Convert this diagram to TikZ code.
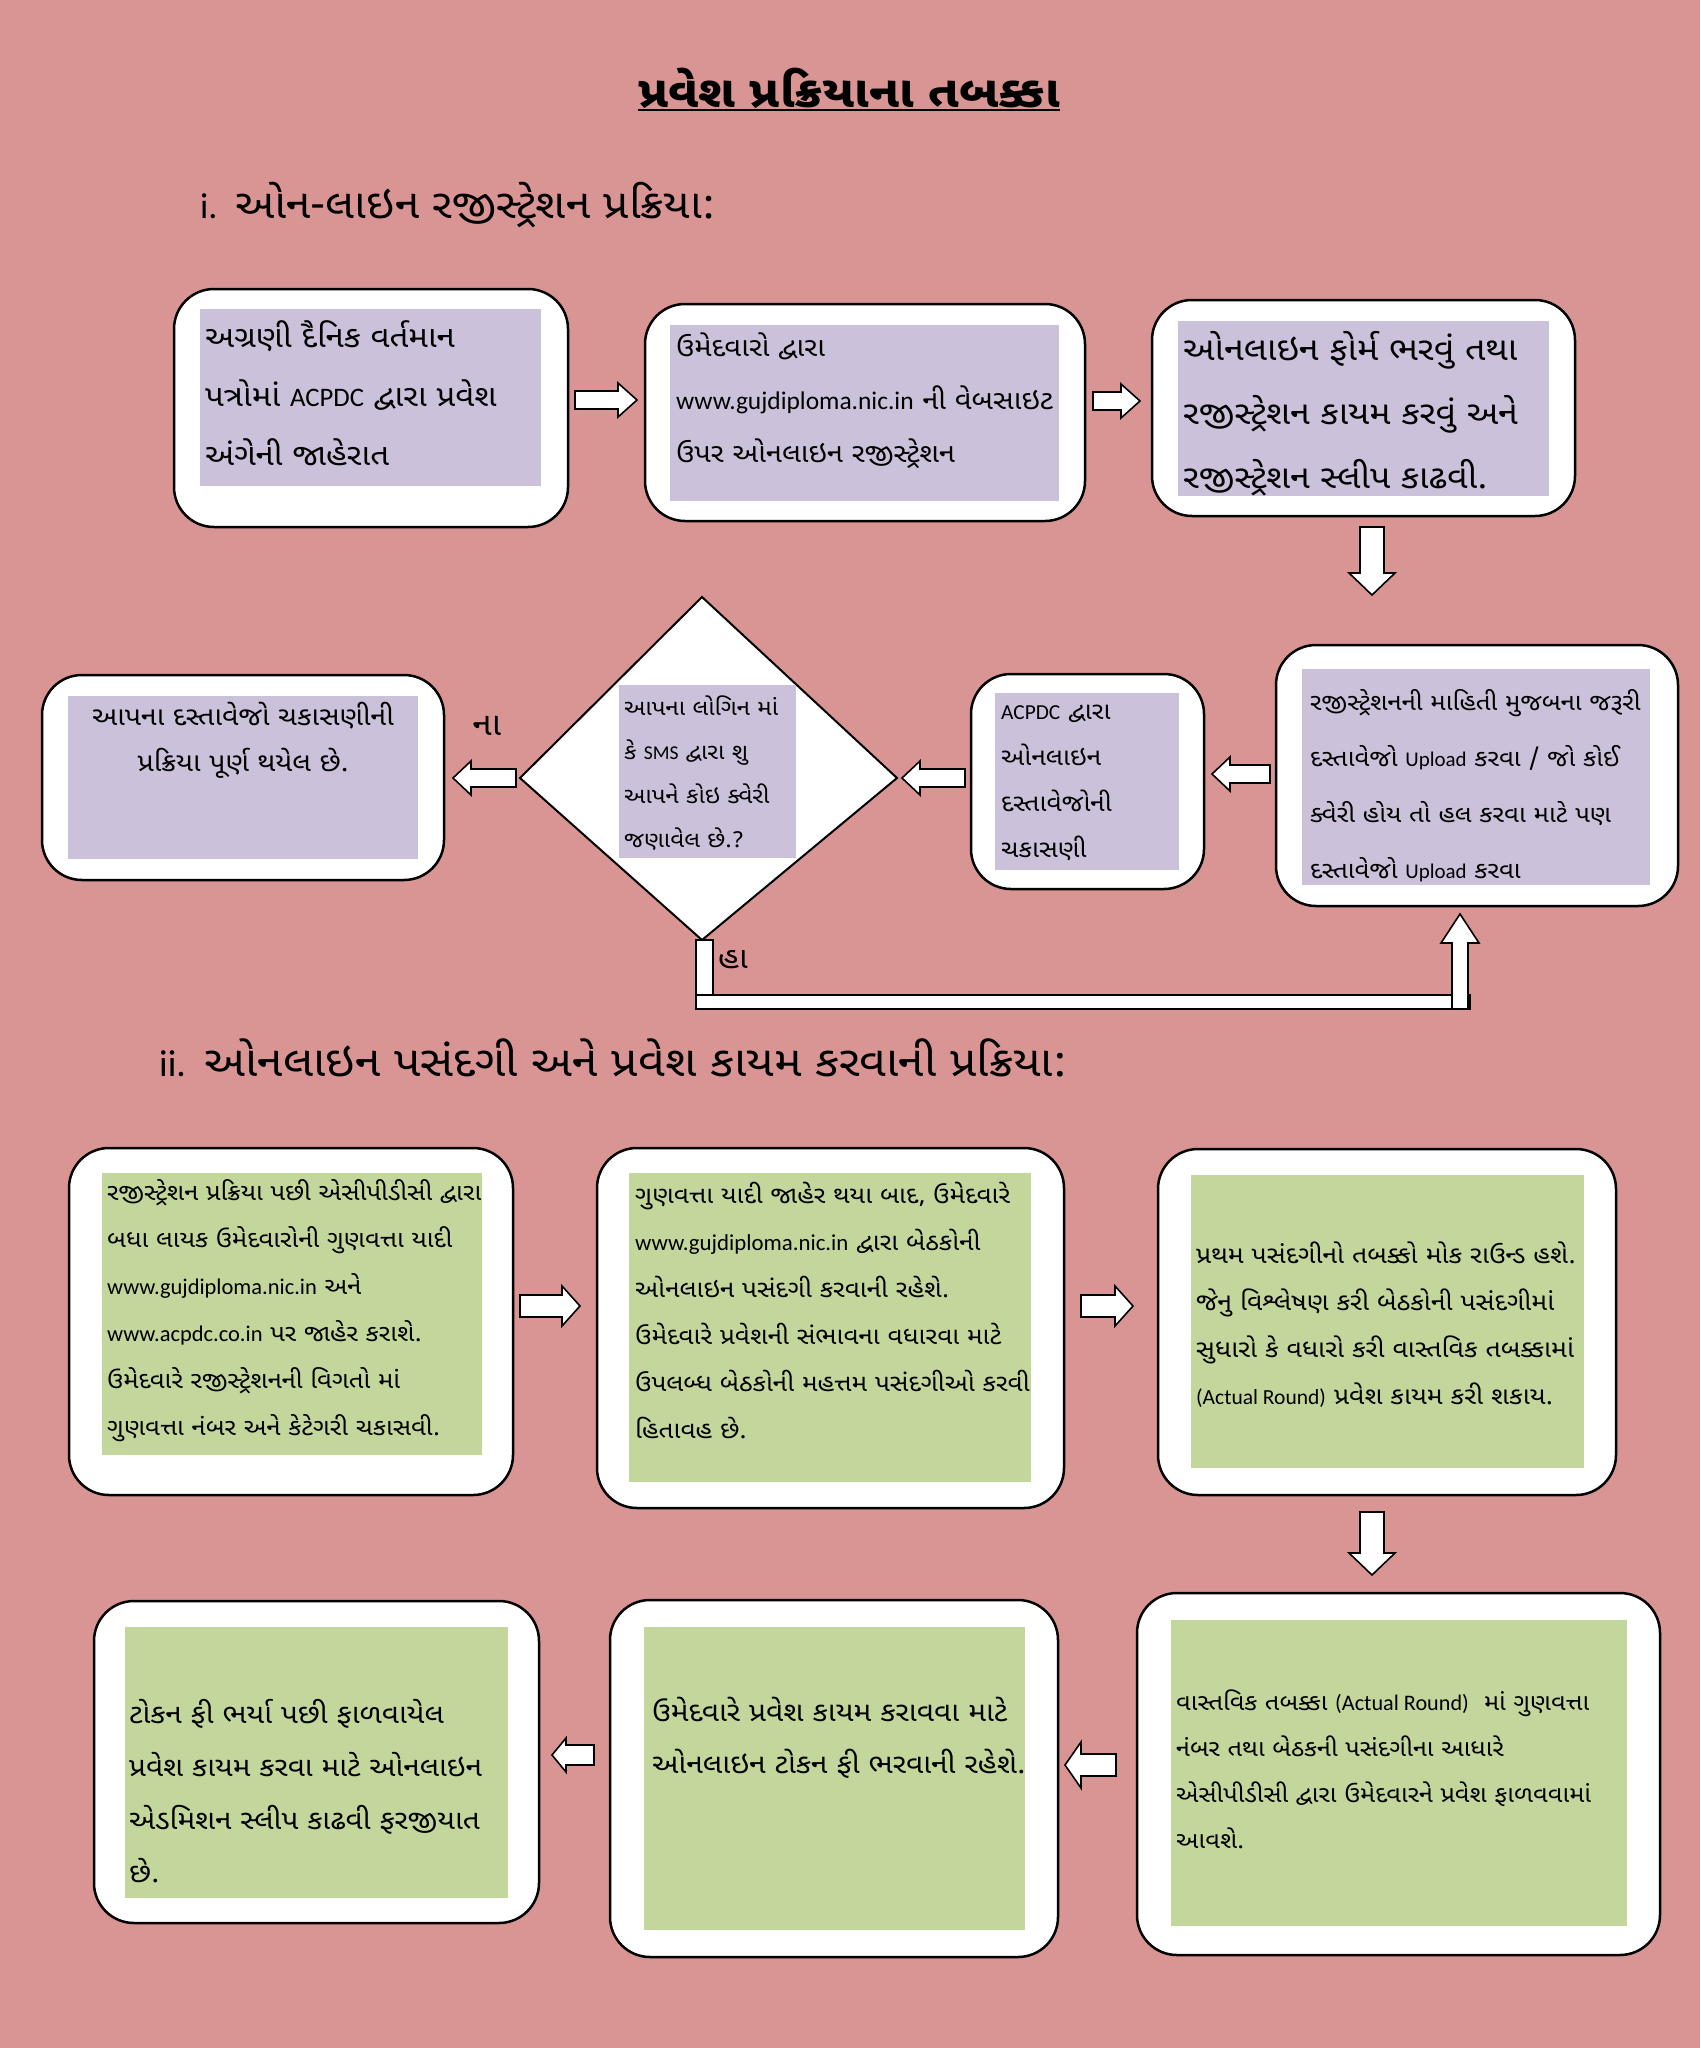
\documentclass[tikz,border=0pt]{standalone}
\usepackage{fontspec}
\setmainfont{Noto Sans Gujarati UI}[Script=Gujarati, FakeStretch=1.1]
\newfontfamily\lat{Carlito}[Scale=0.89]
\newfontfamily\latB{Carlito}[Scale=0.96]
\definecolor{bgpink}{HTML}{D99594}
\definecolor{lilac}{HTML}{CCC1DA}
\definecolor{olive}{HTML}{C3D69B}
\tikzset{
  obox/.style={draw=black, line width=2.5pt, fill=white, rounded corners=40pt},
  blk/.style={draw=black, line width=1.6pt, fill=white, line join=miter},
  txt/.style={anchor=west, align=left, inner sep=0pt, text=black},
}
\newcommand\fs[2]{\fontsize{#1pt}{#2pt}\selectfont}
% horizontal block arrow: tail x, tip x, y, shaft half, head half, head length (signed)
\newcommand\harrow[6]{\draw[blk] (#1,#3-#4) -- ({#2-(#6)},#3-#4) -- ({#2-(#6)},#3-#5) -- (#2,#3) -- ({#2-(#6)},#3+#5) -- ({#2-(#6)},#3+#4) -- (#1,#3+#4) -- cycle;}
% vertical block arrow: tail y, tip y, x, shaft half, head half, head length (signed)
\newcommand\varrow[6]{\draw[blk] (#3-#4,#1) -- (#3-#4,{#2-(#6)}) -- (#3-#5,{#2-(#6)}) -- (#3,#2) -- (#3+#5,{#2-(#6)}) -- (#3+#4,{#2-(#6)}) -- (#3+#4,#1) -- cycle;}
\begin{document}
\begin{tikzpicture}[x=1pt,y=-1pt]
\fill[bgpink] (0,0) rectangle (1700,2048);
\useasboundingbox (0,0) rectangle (1700,2048);

% title and headings
\node[inner sep=0pt, font=\fs{44}{52}\bfseries] (title) at (849,88) {પ્રવેશ પ્રક્રિયાના તબક્કા};
\coordinate (ul) at (0,110);
\draw[line width=1.8pt] (title.west |- ul) -- (title.east |- ul);
\node[txt, font=\fs{40.5}{46}] (h1) at (200,205) {{\lat i.} ઓન-લાઇન રજીસ્ટ્રેશન પ્રક્રિયા:};
\node[txt, font=\fs{42.2}{48}] (h2) at (159,1058) {{\lat ii.} ઓનલાઇન પસંદગી અને પ્રવેશ કાયમ કરવાની પ્રક્રિયા:};

% ---------- row 1 ----------
\draw[obox] (174,289) rectangle (568,527);
\fill[lilac] (200,309) rectangle (541,486);
\node[txt, font=\fs{30}{59}] (A) at (205,393) {અગ્રણી દૈનિક વર્તમાન\\પત્રોમાં {\lat ACPDC} દ્વારા પ્રવેશ\\અંગેની જાહેરાત};

\draw[obox] (645,304) rectangle (1085,521);
\fill[lilac] (670,325) rectangle (1059,501);
\node[txt, font=\fs{26.5}{53}] (B) at (676,401) {ઉમેદવારો દ્વારા\\{\latB www.gujdiploma.nic.in} ની વેબસાઇટ\\ઉપર ઓનલાઇન રજીસ્ટ્રેશન};

\draw[obox] (1152,300) rectangle (1575,516);
\fill[lilac] (1178,321) rectangle (1549,496);
\node[txt, font=\fs{32.5}{64}] (C) at (1183,414) {ઓનલાઇન ફોર્મ ભરવું તથા\\રજીસ્ટ્રેશન કાયમ કરવું અને\\રજીસ્ટ્રેશન સ્લીપ કાઢવી.};

\harrow{575}{637}{400}{9}{17}{19}
\harrow{1093}{1140}{401}{9}{17}{19}
\varrow{527}{595}{1372}{12}{23}{22}

% ---------- row 2 ----------
\draw[obox] (1276,645) rectangle (1678,906);
\fill[lilac] (1302,669) rectangle (1650,885);
\node[txt, font=\fs{23.5}{56}] (D) at (1310,786) {રજીસ્ટ્રેશનની માહિતી મુજબના જરૂરી\\દસ્તાવેજો {\lat Upload} કરવા / જો કોઈ\\ક્વેરી હોય તો હલ કરવા માટે પણ\\દસ્તાવેજો {\lat Upload} કરવા};

\draw[obox] (971,674) rectangle (1204,889);
\fill[lilac] (995,693) rectangle (1179,870);
\node[txt, font=\fs{24}{46}] (E) at (1001,783) {{\lat ACPDC} દ્વારા\\ઓનલાઇન\\દસ્તાવેજોની\\ચકાસણી};

\draw[blk, line width=2pt] (702,597) -- (897,778) -- (702,940) -- (520,778) -- cycle;
\fill[lilac] (619,685) rectangle (796,858);
\node[txt, font=\fs{22}{44}] (F) at (624,773) {આપના લોગિન માં\\કે {\lat SMS} દ્વારા શુ\\આપને કોઇ ક્વેરી\\જણાવેલ છે.?};

\draw[obox] (42,675) rectangle (444,880);
\fill[lilac] (68,696) rectangle (418,859);
\node[inner sep=0pt, align=center, font=\fs{26}{46}] (G) at (243,740) {આપના દસ્તાવેજો ચકાસણીની\\પ્રક્રિયા પૂર્ણ થયેલ છે.};

\harrow{1270}{1212}{774}{9}{17}{-18}
\harrow{965}{902}{778}{9}{17}{-18}
\harrow{516}{453}{778}{9}{17}{-18}

\node[inner sep=0pt, font=\fs{32}{34}] (no) at (487,726) {ના};
\node[txt, font=\fs{30}{32}] (yes) at (718,960) {હા};

% yes-loop
\draw[blk] (696,940) rectangle (713,995);
\draw[blk] (696,995) rectangle (1470,1009);
\varrow{1009}{914}{1460}{8}{19}{-29}

% ---------- row 3 ----------
\draw[obox] (69,1148) rectangle (513,1495);
\fill[olive] (102,1173) rectangle (482,1455);
\node[txt, font=\fs{23.4}{47}] (H) at (107,1311) {રજીસ્ટ્રેશન પ્રક્રિયા પછી એસીપીડીસી દ્વારા\\બધા લાયક ઉમેદવારોની ગુણવત્તા યાદી\\{\latB www.gujdiploma.nic.in} અને\\{\latB www.acpdc.co.in} પર જાહેર કરાશે.\\ઉમેદવારે રજીસ્ટ્રેશનની વિગતો માં\\ગુણવત્તા નંબર અને કેટેગરી ચકાસવી.};

\draw[obox] (597,1148) rectangle (1064,1508);
\fill[olive] (629,1173) rectangle (1031,1482);
\node[txt, font=\fs{23.8}{47}] (I) at (635,1310) {ગુણવત્તા યાદી જાહેર થયા બાદ, ઉમેદવારે\\{\latB www.gujdiploma.nic.in} દ્વારા બેઠકોની\\ઓનલાઇન પસંદગી કરવાની રહેશે.\\ઉમેદવારે પ્રવેશની સંભાવના વધારવા માટે\\ઉપલબ્ધ બેઠકોની મહત્તમ પસંદગીઓ કરવી\\હિતાવહ છે.};

\draw[obox] (1158,1149) rectangle (1616,1495);
\fill[olive] (1191,1175) rectangle (1584,1468);
\node[txt, font=\fs{24.2}{47}] (J) at (1196,1325) {પ્રથમ પસંદગીનો તબક્કો મોક રાઉન્ડ હશે.\\જેનુ વિશ્લેષણ કરી બેઠકોની પસંદગીમાં\\સુધારો કે વધારો કરી વાસ્તવિક તબક્કામાં\\{\lat (Actual Round)} પ્રવેશ કાયમ કરી શકાય.};

\harrow{520}{580}{1306}{11}{20}{18}
\harrow{1081}{1133}{1306}{11}{20}{18}
\varrow{1512}{1575}{1372}{12}{23}{22}

% ---------- row 4 ----------
\draw[obox] (1137,1593) rectangle (1660,1955);
\fill[olive] (1171,1620) rectangle (1627,1926);
\node[txt, font=\fs{23.1}{46}] (K) at (1176,1769) {વાસ્તવિક તબક્કા {\latB (Actual Round)}\ \ માં ગુણવત્તા\\નંબર તથા બેઠકની પસંદગીના આધારે\\એસીપીડીસી દ્વારા ઉમેદવારને પ્રવેશ ફાળવવામાં\\આવશે.};

\draw[obox] (610,1600) rectangle (1058,1957);
\fill[olive] (644,1627) rectangle (1025,1930);
\node[txt, font=\fs{27.2}{52}] (L) at (652,1738) {ઉમેદવારે પ્રવેશ કાયમ કરાવવા માટે\\ઓનલાઇન ટોકન ફી ભરવાની રહેશે.};

\draw[obox] (94,1601) rectangle (539,1923);
\fill[olive] (125,1627) rectangle (508,1898);
\node[txt, font=\fs{27}{53}] (M) at (129,1791) {ટોકન ફી ભર્યા પછી ફાળવાયેલ\\પ્રવેશ કાયમ કરવા માટે ઓનલાઇન\\એડમિશન સ્લીપ કાઢવી ફરજીયાત\\છે.};

\harrow{1116}{1065}{1765}{11}{23}{-16}
\harrow{594}{552}{1755}{10}{17}{-14}
\end{tikzpicture}
\end{document}
